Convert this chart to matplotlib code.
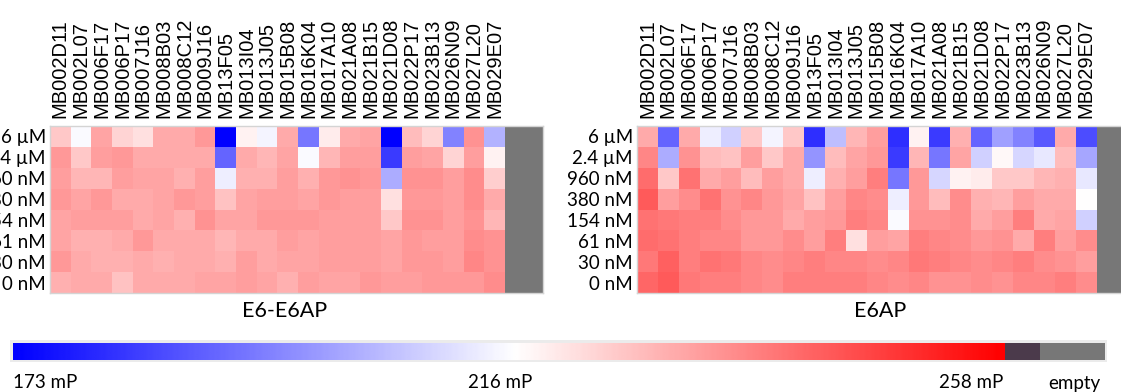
import numpy as np
import matplotlib
matplotlib.use("Agg")
from matplotlib import pyplot as plt
from matplotlib.colors import LinearSegmentedColormap, TwoSlopeNorm
from matplotlib.patches import Rectangle

compounds = ['MB002D11', 'MB002L07', 'MB006F17', 'MB006P17', 'MB007J16', 'MB008B03',
             'MB008C12', 'MB009J16', 'MB13F05', 'MB013I04', 'MB013J05', 'MB015B08',
             'MB016K04', 'MB017A10', 'MB021A08', 'MB021B15', 'MB021D08', 'MB022P17',
             'MB023B13', 'MB026N09', 'MB027L20', 'MB029E07']
concentrations = ['6 \u00b5M', '2.4 \u00b5M', '960 nM', '380 nM', '154 nM', '61 nM', '30 nM', '0 nM']

# polarization in mP, one row per concentration
e6_e6ap = [
    [225, 215, 231, 223, 221, 230, 230, 233, 173, 218, 214, 230, 193, 219, 230, 231, 173, 227, 223, 195, 234, 203],
    [233, 225, 232, 233, 230, 230, 230, 230, 190, 230, 228, 231, 215, 228, 232, 232, 183, 232, 231, 223, 232, 218],
    [232, 228, 228, 232, 231, 231, 229, 232, 213, 229, 229, 232, 229, 233, 234, 233, 202, 234, 234, 232, 235, 224],
    [233, 231, 233, 230, 230, 231, 233, 232, 226, 231, 232, 232, 231, 233, 232, 232, 221, 233, 233, 232, 235, 230],
    [231, 232, 232, 232, 230, 231, 229, 234, 231, 231, 233, 233, 233, 232, 232, 232, 225, 234, 234, 232, 234, 228],
    [231, 229, 229, 230, 233, 230, 230, 230, 228, 230, 230, 232, 231, 232, 232, 232, 231, 233, 232, 232, 235, 234],
    [233, 230, 229, 229, 230, 229, 230, 230, 229, 232, 230, 231, 231, 232, 232, 232, 231, 233, 233, 232, 236, 234],
    [229, 230, 230, 226, 230, 230, 230, 231, 231, 232, 231, 229, 232, 231, 231, 233, 232, 232, 233, 233, 233, 235],
]
e6ap = [
    [230, 190, 230, 213, 208, 225, 214, 225, 181, 205, 228, 232, 181, 218, 183, 229, 190, 200, 195, 188, 230, 186],
    [236, 202, 234, 227, 226, 232, 225, 230, 198, 227, 231, 233, 183, 228, 193, 231, 208, 217, 209, 212, 227, 201],
    [240, 225, 239, 230, 232, 227, 232, 230, 213, 229, 232, 237, 193, 233, 209, 218, 219, 225, 225, 228, 229, 212],
    [243, 232, 235, 239, 234, 236, 233, 231, 226, 232, 236, 235, 213, 233, 227, 235, 229, 228, 232, 230, 230, 216],
    [239, 238, 237, 237, 235, 233, 233, 230, 232, 233, 237, 236, 215, 234, 234, 235, 230, 232, 237, 230, 231, 208],
    [240, 239, 237, 236, 236, 233, 233, 235, 232, 237, 221, 232, 231, 237, 236, 235, 233, 234, 230, 237, 232, 235],
    [238, 242, 237, 239, 238, 236, 235, 236, 237, 236, 236, 235, 236, 238, 237, 236, 235, 236, 237, 235, 234, 232],
    [241, 243, 238, 237, 237, 236, 235, 237, 237, 237, 237, 236, 235, 236, 234, 234, 235, 234, 236, 236, 237, 235],
]

mp_low, mp_mid, mp_high = 173, 216, 258

W, H = 1121, 392
fig = plt.figure(figsize=(W / 100, H / 100), dpi=100)

cmap = LinearSegmentedColormap.from_list('mp', ['#0000ff', '#ffffff', '#ff0000'])
cmap.set_bad('#777777')
norm = TwoSlopeNorm(vcenter=mp_mid, vmin=mp_low, vmax=mp_high)
empty_w = 1.84   # width of the "empty" column, in cells


def px_axes(x0, y0, x1, y1):
    return fig.add_axes([x0 / W, 1 - y1 / H, (x1 - x0) / W, (y1 - y0) / H])


def draw_panel(ax, values, title, title_x):
    data = np.array(values, dtype=float)
    grid = np.column_stack([data, np.full(len(concentrations), np.nan)])
    xedges = np.r_[np.arange(len(compounds) + 1), len(compounds) + empty_w]
    yedges = np.arange(len(concentrations) + 1)
    ax.pcolormesh(xedges, yedges, np.ma.masked_invalid(grid), cmap=cmap, norm=norm)
    ax.set_xlim(0, len(compounds) + empty_w)
    ax.set_ylim(len(concentrations), 0)
    ax.xaxis.tick_top()
    ax.set_xticks(np.arange(len(compounds)) + 0.5, compounds, rotation=90,
                  fontfamily='Liberation Sans', fontsize=14.5)
    ax.set_yticks(np.arange(len(concentrations)) + 0.5, concentrations,
                  fontfamily='Lato', fontsize=13.5)
    ax.tick_params(axis='x', length=0, pad=5.5)
    ax.tick_params(axis='y', length=0, pad=3)
    for sp in ax.spines.values():
        sp.set_color('#d4d4d4')
        sp.set_linewidth(1)
    fig.text(title_x / W, 1 - 311 / H, title, ha='center', va='center',
             fontfamily='Lato', fontsize=15.5)


ax1 = px_axes(50, 126, 543, 293)
draw_panel(ax1, e6_e6ap, 'E6-E6AP', 285)
ax2 = px_axes(637, 126, 1135, 293)
draw_panel(ax2, e6ap, 'E6AP', 880)

# colour key with its light frame behind it
fig.patches.append(Rectangle((10 / W, 1 - 362 / H), 1097 / W, 22 / H,
                             transform=fig.transFigure, facecolor='#ebebeb',
                             edgecolor='none', zorder=-5))
cax = px_axes(13, 343, 1105, 360)
cax.set_zorder(2)
px_per_mp = (1005 - 13) / (mp_high - mp_low)
over_end = mp_high + (1040 - 1005) / px_per_mp
empty_end = over_end + (1105 - 1040) / px_per_mp
grad = np.linspace(mp_low, mp_high, 400)
cax.imshow(grad[None, :], cmap=cmap, norm=norm, aspect='auto',
           extent=[mp_low, mp_high, 0, 1], interpolation='bilinear')
cax.axvspan(mp_high, over_end, color='#4b3a4b', lw=0)
cax.axvspan(over_end, empty_end, color='#777777', lw=0)
cax.set_xlim(mp_low, empty_end)
cax.set_ylim(0, 1)
cax.axis('off')

label_y = 1 - 383 / H
fig.text(13 / W, label_y, f'{mp_low} mP', ha='left', va='center', fontfamily='Lato', fontsize=13.5)
fig.text(500 / W, label_y, f'{mp_mid} mP', ha='center', va='center', fontfamily='Lato', fontsize=13.5)
fig.text(1003 / W, label_y, f'{mp_high} mP', ha='right', va='center', fontfamily='Lato', fontsize=13.5)
fig.text(1074 / W, label_y, 'empty', ha='center', va='center', fontfamily='Lato', fontsize=13.5)

fig.savefig('out.png', dpi=100)
